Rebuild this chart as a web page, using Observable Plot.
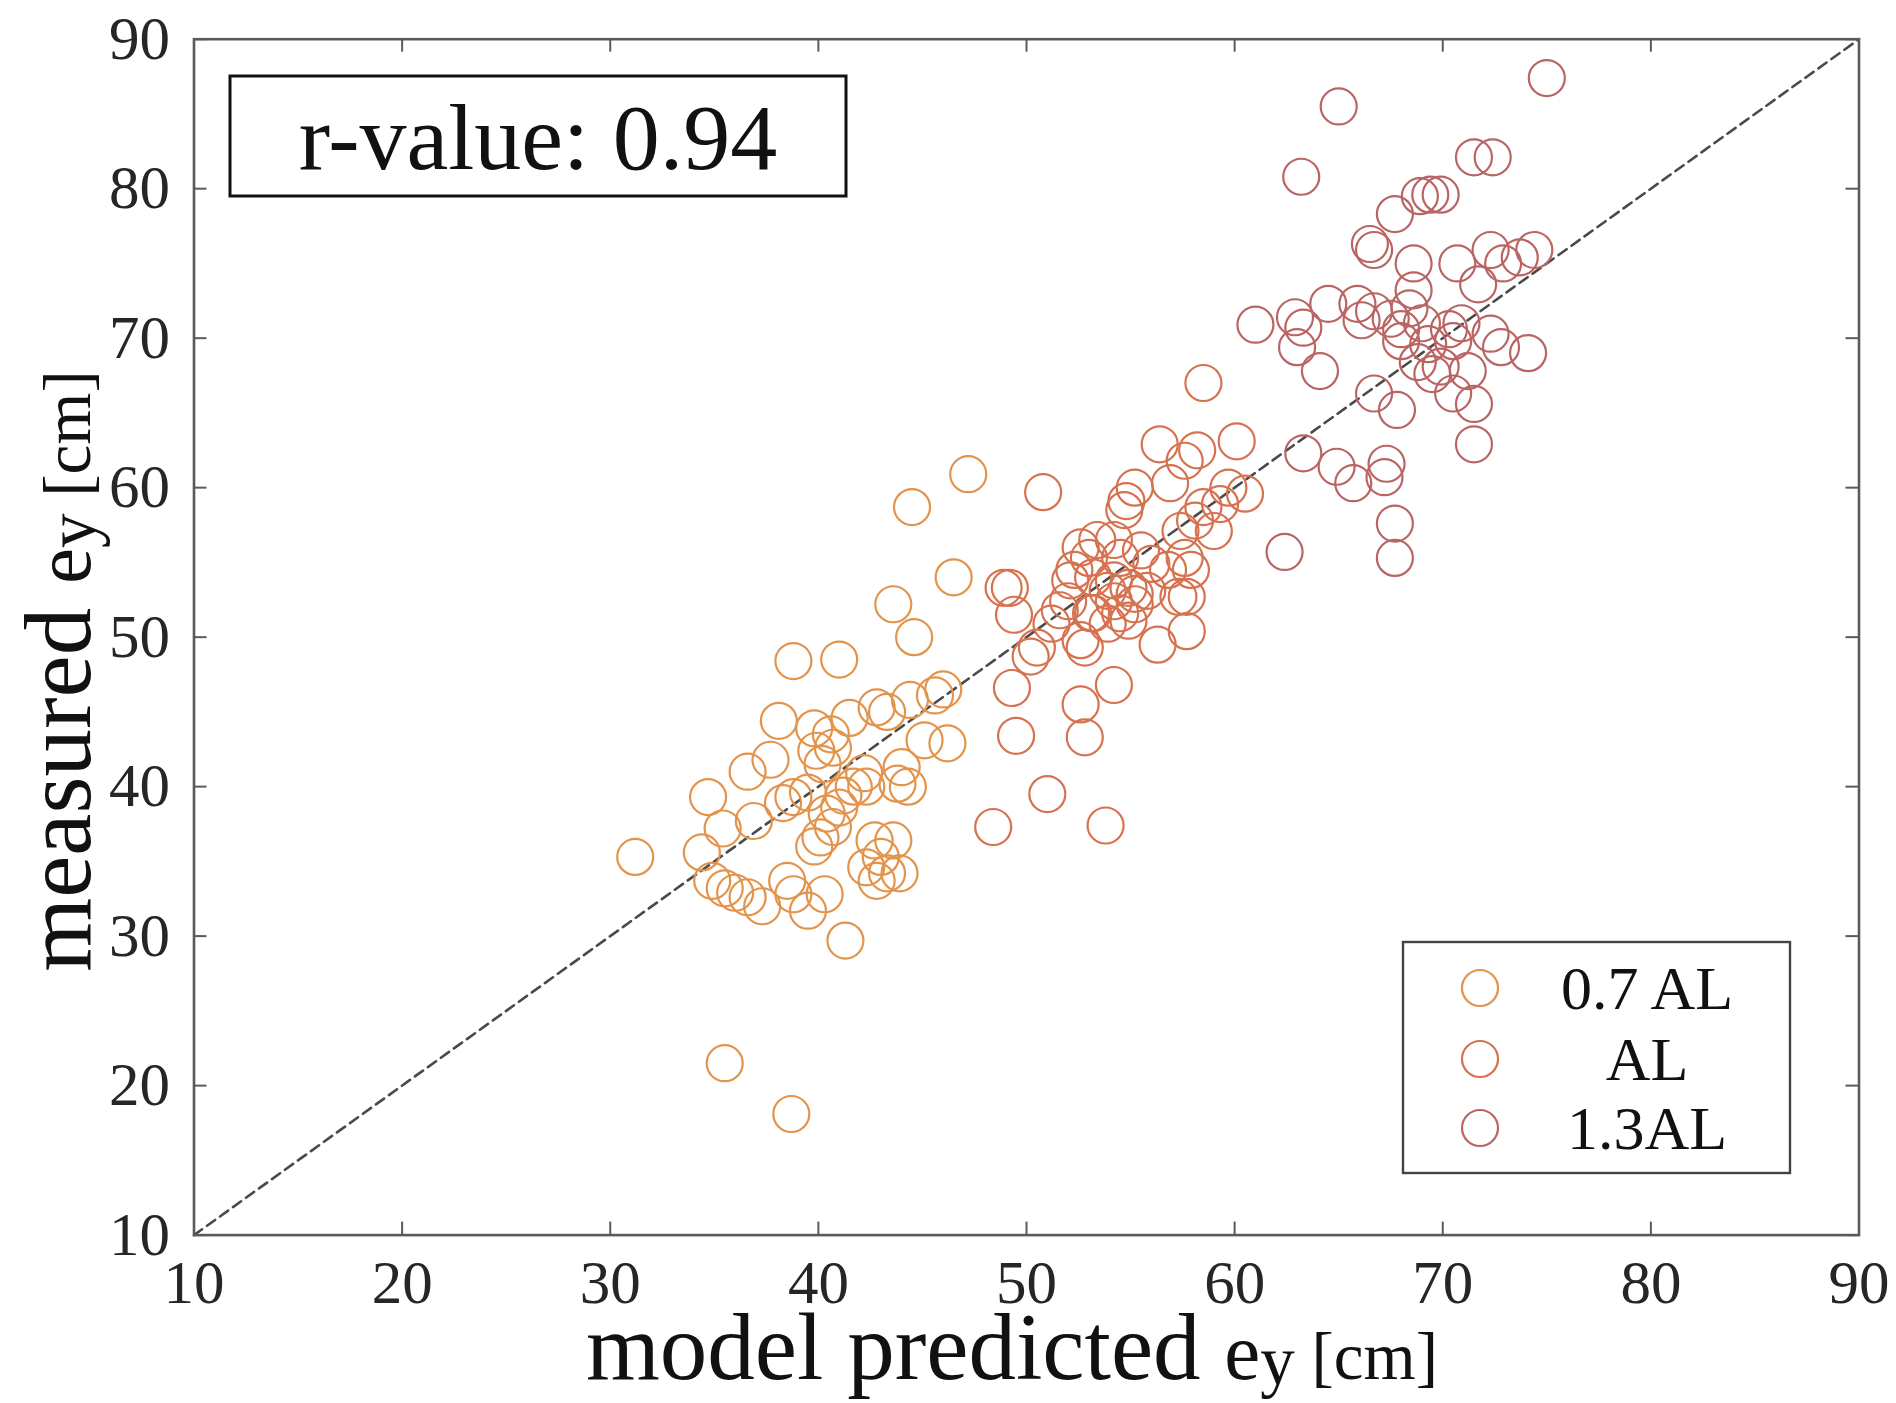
<!DOCTYPE html>
<html>
<head>
<meta charset="utf-8">
<script src="https://cdn.jsdelivr.net/npm/d3@7"></script>
<script src="https://cdn.jsdelivr.net/npm/@observablehq/plot@0.6"></script>
<style>
  html, body { margin: 0; padding: 0; background: #fff; }
  #chart { width: 1896px; height: 1403px; }
</style>
</head>
<body>
<div id="chart"></div>
<script>
// Load-case groups and their marker colours
const groups = ["0.7 AL", "AL", "1.3AL"];
const groupColors = ["#E3944C", "#D6724F", "#BA6464"];

// Axis ticks and the shared domain (also used for the 1:1 reference line)
const xTicks = [10, 20, 30, 40, 50, 60, 70, 80, 90];
const yTicks = [10, 20, 30, 40, 50, 60, 70, 80, 90];
const axisDomain = [10, 90];
const rValue = 0.94;

// 0.7 AL: model predicted vs measured e_y [cm]
const x07 = [31.2, 35.5, 38.7, 34.7, 34.4, 35.4, 34.9, 35.5, 36.0, 36.6, 37.3, 36.6, 37.7, 36.9, 38.1, 38.8,
  38.3, 38.8, 39.5, 38.5, 38.8, 39.5, 40.3, 39.8, 40.6, 40.7, 39.9, 41.5, 41.0, 40.4, 41.0, 39.8,
  40.1, 40.7, 41.3, 41.7, 42.3, 42.2, 42.8, 43.3, 42.7, 43.6, 42.3, 43.3, 43.9, 42.8, 43.0, 43.8,
  44.0, 43.6, 44.6, 44.5, 45.6, 46.0, 45.1, 46.2, 44.3, 46.5, 47.2, 44.4, 40.2, 41.2];
const y07 = [35.3, 21.5, 18.1, 39.3, 35.6, 37.2, 33.7, 33.2, 32.9, 32.6, 32.0, 41.0, 41.8, 37.7, 44.4, 48.4,
  38.9, 39.3, 39.6, 33.7, 32.8, 31.7, 32.8, 43.9, 43.5, 42.6, 42.4, 44.6, 48.5, 38.2, 38.6, 36.0,
  36.6, 37.3, 29.7, 40.0, 40.0, 40.9, 45.3, 45.0, 36.4, 36.4, 34.6, 34.2, 34.2, 33.7, 35.3, 40.2,
  41.3, 52.2, 50.0, 58.7, 46.1, 46.5, 43.1, 42.9, 40.0, 54.0, 60.9, 45.8, 41.5, 39.4];

// AL
const xAL = [48.4, 51.0, 53.8, 49.5, 49.3, 52.6, 52.8, 54.2, 48.9, 49.2, 49.4, 50.2, 50.5, 50.8, 52.6, 52.1,
  52.0, 52.6, 53.2, 54.2, 54.2, 54.8, 55.2, 53.4, 54.5, 54.2, 55.2, 54.9, 56.4, 60.1, 58.2, 57.6,
  56.9, 60.5, 59.7, 59.3, 58.5, 59.0, 58.1, 57.4, 54.7, 58.5, 54.5, 55.5, 56.0, 57.6, 57.9, 56.8,
  52.3, 53.2, 53.9, 54.9, 55.8, 55.2, 57.3, 57.7, 51.6, 51.2, 53.1, 53.9, 52.8, 56.3, 57.7, 53.0];
const yAL = [37.3, 39.5, 37.4, 43.4, 46.6, 45.5, 43.3, 46.8, 53.3, 53.3, 51.5, 48.7, 49.3, 59.7, 56.0, 53.8,
  52.4, 49.8, 51.6, 53.8, 56.5, 59.1, 60.0, 56.5, 51.6, 52.4, 52.9, 51.1, 62.9, 63.1, 62.5, 61.8,
  60.3, 59.6, 60.0, 58.9, 58.7, 57.1, 57.8, 57.1, 58.5, 67.0, 55.3, 55.8, 54.9, 55.3, 54.5, 54.5,
  54.5, 54.0, 53.1, 53.3, 53.1, 52.2, 52.7, 52.7, 51.8, 50.9, 51.6, 50.9, 49.3, 49.5, 50.4, 55.3];

// 1.3AL
const x13 = [65.0, 63.2, 71.5, 72.4, 75.0, 68.9, 69.4, 69.9, 67.7, 66.5, 66.7, 68.6, 68.6, 70.7, 72.3, 72.9,
  73.7, 74.4, 71.7, 61.0, 62.9, 63.3, 64.5, 63.0, 64.1, 65.9, 66.1, 66.7, 67.5, 68.0, 68.4, 68.0,
  69.3, 68.8, 69.9, 69.5, 70.5, 70.9, 72.3, 72.8, 74.1, 71.2, 70.5, 71.5, 71.5, 66.7, 67.8, 63.3,
  64.9, 65.7, 67.3, 67.2, 67.7, 67.7, 62.4, 69.0, 70.3];
const y13 = [85.5, 80.8, 82.1, 82.1, 87.4, 79.5, 79.6, 79.6, 78.3, 76.3, 75.9, 75.0, 73.2, 75.0, 75.9, 75.0,
  75.4, 75.9, 73.6, 70.9, 71.4, 70.7, 72.3, 69.4, 67.8, 72.3, 71.2, 71.8, 71.3, 70.6, 72.0, 69.8,
  69.6, 68.4, 68.1, 67.6, 69.8, 71.0, 70.3, 69.4, 69.0, 67.8, 66.3, 65.6, 62.9, 66.3, 65.2, 62.3,
  61.4, 60.3, 61.6, 60.7, 57.6, 55.3, 55.7, 71.0, 70.6];

const seriesX = [x07, xAL, x13];
const seriesY = [y07, yAL, y13];
const points = groups.flatMap((g, k) => seriesX[k].map((x, i) => ({x, y: seriesY[k][i], g})));

// Layout
const W = 1896, H = 1403;
const mL = 193.5, mR = 37.5, mT = 38.7, mB = 168.4;
const plotW = W - mL - mR, plotH = H - mT - mB;
const tickLen = 13;
const serif = "'Liberation Serif', 'Times New Roman', serif";
const axisGray = "#5a5a5a";

const plot = Plot.plot({
  width: W,
  height: H,
  marginLeft: mL,
  marginRight: mR,
  marginTop: mT,
  marginBottom: mB,
  style: {fontFamily: serif, background: "#fff", color: "#262626"},
  x: {domain: axisDomain, ticks: xTicks, label: null},
  y: {domain: axisDomain, ticks: yTicks, label: null},
  color: {domain: groups, range: groupColors},
  marks: [
    // 1:1 reference line
    Plot.line(axisDomain, {x: d => d, y: d => d, stroke: "#4a4a4a", strokeWidth: 2.6, strokeDasharray: "10,6"}),
    Plot.dot(points, {x: "x", y: "y", stroke: "g", fill: "none", r: 18, strokeWidth: 2.2}),
    // inward ticks on all four sides
    Plot.tickX(xTicks, {x: d => d, insetTop: plotH - tickLen, stroke: axisGray, strokeWidth: 2}),
    Plot.tickX(xTicks, {x: d => d, insetBottom: plotH - tickLen, stroke: axisGray, strokeWidth: 2}),
    Plot.tickY(yTicks, {y: d => d, insetRight: plotW - tickLen, stroke: axisGray, strokeWidth: 2}),
    Plot.tickY(yTicks, {y: d => d, insetLeft: plotW - tickLen, stroke: axisGray, strokeWidth: 2}),
    Plot.frame({stroke: axisGray, strokeWidth: 2.6}),
    Plot.axisX(xTicks, {anchor: "bottom", tickSize: 0, tickPadding: 25, fontSize: 61, label: null}),
    Plot.axisY(yTicks, {anchor: "left", tickSize: 0, tickPadding: 24, fontSize: 61, label: null})
  ]
});

document.getElementById("chart").appendChild(plot);

const svg = d3.select(plot);

// Axis titles: "<main> e_y [cm]"
function axisTitle(sel, main) {
  sel.attr("font-family", serif).attr("fill", "#111").attr("text-anchor", "middle");
  sel.append("tspan").attr("font-size", 95).text(main + " ");
  sel.append("tspan").attr("font-size", 81).text("e");
  sel.append("tspan").attr("font-size", 69).attr("dy", 5).text("y");
  sel.append("tspan").attr("font-size", 67).attr("dy", -5).text(" [cm]");
}
svg.append("text").attr("x", 1012).attr("y", 1379).call(axisTitle, "model predicted");
svg.append("text").attr("transform", "translate(90,671) rotate(-90)").call(axisTitle, "measured");

// Correlation annotation
const ann = svg.append("g");
ann.append("rect").attr("x", 230).attr("y", 76).attr("width", 616).attr("height", 120)
  .attr("fill", "#fff").attr("stroke", "#111").attr("stroke-width", 3);
ann.append("text").attr("x", 538).attr("y", 169).attr("text-anchor", "middle")
  .attr("font-family", serif).attr("font-size", 94).attr("fill", "#111")
  .text(`r-value: ${rValue.toFixed(2)}`);

// Legend
const leg = svg.append("g");
leg.append("rect").attr("x", 1403).attr("y", 942).attr("width", 387).attr("height", 231)
  .attr("fill", "#fff").attr("stroke", "#444").attr("stroke-width", 2.4);
const legY = [988, 1059, 1128];
groups.forEach((g, i) => {
  leg.append("circle").attr("cx", 1480).attr("cy", legY[i]).attr("r", 18)
    .attr("fill", "none").attr("stroke", groupColors[i]).attr("stroke-width", 2.2);
  leg.append("text").attr("x", 1647).attr("y", legY[i] + 21).attr("text-anchor", "middle")
    .attr("font-family", serif).attr("font-size", 62).attr("fill", "#111").text(g);
});
</script>
</body>
</html>
